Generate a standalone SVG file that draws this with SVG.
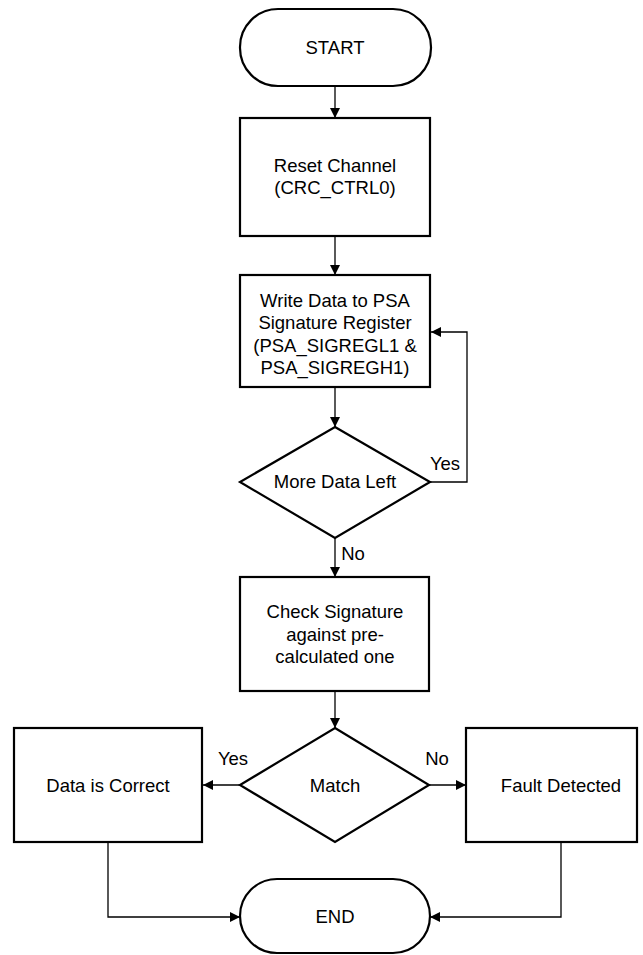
<svg xmlns="http://www.w3.org/2000/svg" width="643" height="955" viewBox="0 0 643 955">
<defs>
<marker id="ah" markerWidth="10" markerHeight="10" refX="10" refY="5" orient="auto" markerUnits="userSpaceOnUse">
<path d="M0,0 L10,5 L0,10 Z" fill="#000"/>
</marker>
<style>
.shape{fill:#fff;stroke:#000;stroke-width:2.2}
.conn{fill:none;stroke:#000;stroke-width:1.3}
text{font-family:"Liberation Sans",Arial,sans-serif;font-size:18.5px;fill:#000;text-anchor:middle}
</style>
</defs>
<rect width="643" height="955" fill="#fff"/>
<g id="connectors">
<path class="conn" d="M335,86 V118" marker-end="url(#ah)"/>
<path class="conn" d="M335,236 V275" marker-end="url(#ah)"/>
<path class="conn" d="M335,387 V427" marker-end="url(#ah)"/>
<path class="conn" d="M430,482 H467 V332 H431" marker-end="url(#ah)"/>
<path class="conn" d="M335,538 V577" marker-end="url(#ah)"/>
<path class="conn" d="M335,691 V728" marker-end="url(#ah)"/>
<path class="conn" d="M240,785 H203" marker-end="url(#ah)"/>
<path class="conn" d="M429,785 H466" marker-end="url(#ah)"/>
<path class="conn" d="M108,842 V917 H240" marker-end="url(#ah)"/>
<path class="conn" d="M561,842 V917 H430" marker-end="url(#ah)"/>
<text x="445" y="470">Yes</text>
<text x="353" y="560">No</text>
<text x="233" y="765">Yes</text>
<text x="437" y="765">No</text>
</g>
<g id="start">
<rect class="shape" x="240" y="9" width="191" height="77" rx="38" ry="38"/>
<text x="335" y="54">START</text>
</g>
<g id="reset">
<rect class="shape" x="240" y="118" width="190" height="118"/>
<text x="335" y="172">Reset Channel</text>
<text x="335" y="194">(CRC_CTRL0)</text>
</g>
<g id="write">
<rect class="shape" x="240" y="275" width="190" height="112"/>
<text x="335" y="306.5">Write Data to PSA</text>
<text x="335" y="329">Signature Register</text>
<text x="335" y="351.5">(PSA_SIGREGL1 &amp;</text>
<text x="335" y="374">PSA_SIGREGH1)</text>
</g>
<g id="more">
<polygon class="shape" points="335,427 430,482 335,538 240,482"/>
<text x="335" y="488">More Data Left</text>
</g>
<g id="check">
<rect class="shape" x="240" y="577" width="189" height="114"/>
<text x="335" y="618">Check Signature</text>
<text x="335" y="640.5">against pre-</text>
<text x="335" y="663">calculated one</text>
</g>
<g id="match">
<polygon class="shape" points="335,728 429,785 335,842 240,785"/>
<text x="335" y="792">Match</text>
</g>
<g id="correct">
<rect class="shape" x="14" y="728" width="188" height="114"/>
<text x="108" y="792">Data is Correct</text>
</g>
<g id="fault">
<rect class="shape" x="466" y="728" width="171" height="114"/>
<text x="561" y="792">Fault Detected</text>
</g>
<g id="end">
<rect class="shape" x="240" y="879" width="190" height="74" rx="37" ry="37"/>
<text x="335" y="923">END</text>
</g>
</svg>
